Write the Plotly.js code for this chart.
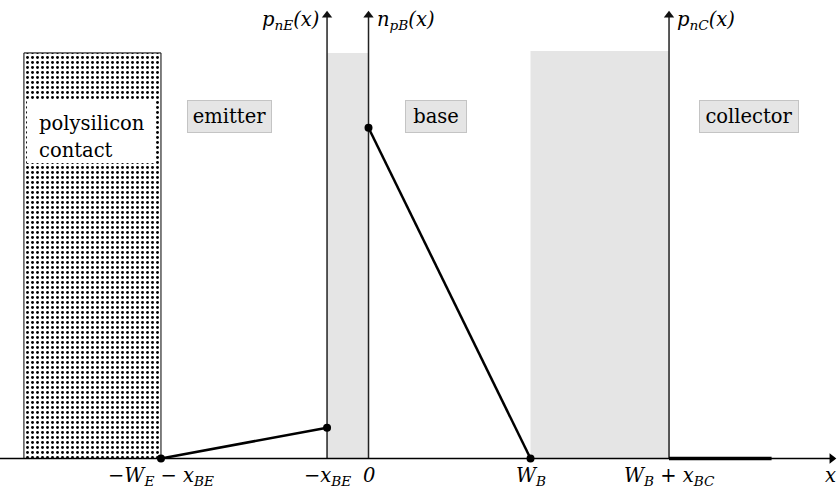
<!DOCTYPE html>
<html>
<head>
<meta charset="utf-8">
<script src="https://cdn.plot.ly/plotly-3.0.1.min.js"></script>
<style>html,body{margin:0;padding:0;background:#fff;}#chart{width:838px;height:496px;}</style>
</head>
<body>
<div id="chart"></div>
<script>
// ---- data (x in units of W_B, y in units of n_pB(0)) ----
const tickPos = [-1.281, -0.256, 0, 1, 1.855];
const tickLabels = ['−W<sub>E</sub> − x<sub>BE</sub>', '−x<sub>BE</sub>', '0', 'W<sub>B</sub>', 'W<sub>B</sub> + x<sub>BC</sub>'];
const emitterX = [-1.281, -0.256];
const emitterY = [0, 0.093];
const baseX = [0, 1];
const baseY = [1, 0];
const collectorX = [1.855, 2.488];
const collectorY = [0, 0];
const contactX = [-2.127, -1.281];
const contactTop = 1.226;
const contactTextX = [-2.108, -1.318];
const contactTextY = [0.893, 1.084];
const contactLabels = ['polysilicon', 'contact'];
const contactLabelY = [1.013, 0.93];
const depletionBEX = [-0.256, 0];
const depletionBCX = [1, 1.855];
const depletionTop = [1.226, 1.232];
const regionNames = ['emitter', 'base', 'collector'];
const regionX = [-0.858, 0.417, 2.349];
const regionY = 1.035;
const regionW = [83, 60, 98];
const axisNames = ['p<sub>nE</sub>(x)', 'n<sub>pB</sub>(x)', 'p<sub>nC</sub>(x)'];
const axisX = [-0.256, 0, 1.855];
const axisTop = 1.34;
const xAxisEnd = 2.86;
const xRange = [-2.2747, 2.898];
const yRange = [-0.1134, 1.386];

const FONT = 'DejaVu Serif';
const FS = 19.5;

const traces = [
  { // polysilicon contact (dotted)
    x: [contactX[0], contactX[1], contactX[1], contactX[0], contactX[0]],
    y: [0, 0, contactTop, contactTop, 0],
    mode: 'lines', fill: 'toself', fillcolor: '#ffffff',
    fillpattern: {shape: '.', size: 5, solidity: 0.26, fgcolor: '#000000', bgcolor: '#ffffff'},
    line: {color: '#000000', width: 1}, hoverinfo: 'skip', cliponaxis: false
  }
];
// vertical axes with arrow tips
axisX.forEach((xv) => {
  traces.push({x: [xv, xv], y: [0, axisTop], mode: 'lines', line: {color: '#222', width: 1.5}, cliponaxis: false, hoverinfo: 'skip'});
});
traces.push({x: axisX, y: axisX.map(() => axisTop), mode: 'markers',
  marker: {symbol: 'triangle-up', size: 9, color: '#111', line: {width: 0}}, cliponaxis: false, hoverinfo: 'skip'});
// horizontal axis
traces.push({x: [xRange[0], xAxisEnd], y: [0, 0], mode: 'lines', line: {color: '#000', width: 1.5}, cliponaxis: false, hoverinfo: 'skip'});
traces.push({x: [xAxisEnd], y: [0], mode: 'markers',
  marker: {symbol: 'triangle-right', size: 9, color: '#000', line: {width: 0}}, cliponaxis: false, hoverinfo: 'skip'});
// carrier profiles
traces.push({x: emitterX, y: emitterY, mode: 'lines+markers',
  line: {color: '#000', width: 2.5}, marker: {color: '#000', size: 8}, cliponaxis: false});
traces.push({x: baseX, y: baseY, mode: 'lines+markers',
  line: {color: '#000', width: 2.5}, marker: {color: '#000', size: 8}, cliponaxis: false});
traces.push({x: collectorX, y: collectorY, mode: 'lines',
  line: {color: '#000', width: 3.5}, cliponaxis: false});

const shapes = [
  {type: 'rect', xref: 'x', yref: 'y', layer: 'below', x0: depletionBEX[0], x1: depletionBEX[1], y0: 0, y1: depletionTop[0], fillcolor: '#e5e5e5', line: {width: 0}},
  {type: 'rect', xref: 'x', yref: 'y', layer: 'below', x0: depletionBCX[0], x1: depletionBCX[1], y0: 0, y1: depletionTop[1], fillcolor: '#e5e5e5', line: {width: 0}},
  {type: 'rect', xref: 'x', yref: 'y', layer: 'above', x0: contactTextX[0], x1: contactTextX[1], y0: contactTextY[0], y1: contactTextY[1], fillcolor: '#ffffff', line: {width: 0}}
];

const annotations = [];
annotations.push({x: xRange[1], y: 0, xref: 'x', yref: 'y', text: 'x', showarrow: false,
  xanchor: 'right', yanchor: 'top', xshift: 0, yshift: -4, font: {family: FONT, size: FS, color: '#000', style: 'italic'}});
axisX.forEach((xv, i) => {
  annotations.push({x: xv, y: axisTop, xref: 'x', yref: 'y', text: axisNames[i], showarrow: false,
    xanchor: i === 0 ? 'right' : 'left', yanchor: 'top', xshift: i === 0 ? -6 : 6, yshift: 9,
    font: {family: FONT, size: FS, color: '#000', style: 'italic'}});
});
tickPos.forEach((xv, i) => {
  annotations.push({x: xv, y: 0, xref: 'x', yref: 'y', text: tickLabels[i], showarrow: false,
    xanchor: 'center', yanchor: 'top', yshift: -4,
    font: {family: FONT, size: FS, color: '#000', style: 'italic'}});
});
regionNames.forEach((t, i) => {
  annotations.push({x: regionX[i], y: regionY, xref: 'x', yref: 'y', text: t, showarrow: false,
    xanchor: 'center', yanchor: 'middle', width: regionW[i], height: 31, borderpad: 0,
    bgcolor: '#e5e5e5', bordercolor: '#c4c4c4', borderwidth: 1,
    font: {family: FONT, size: FS, color: '#000'}});
});
contactLabels.forEach((t, i) => {
  annotations.push({x: contactTextX[0], y: contactLabelY[i], xref: 'x', yref: 'y', text: t, showarrow: false,
    xanchor: 'left', yanchor: 'middle', xshift: 10,
    font: {family: FONT, size: FS, color: '#000'}});
});

const layout = {
  width: 838, height: 496,
  margin: {l: 0, r: 0, t: 0, b: 0, pad: 0},
  paper_bgcolor: '#fff', plot_bgcolor: '#fff',
  showlegend: false,
  font: {family: FONT},
  xaxis: {range: xRange, visible: false, fixedrange: true},
  yaxis: {range: yRange, visible: false, fixedrange: true},
  shapes: shapes,
  annotations: annotations
};

Plotly.newPlot('chart', traces, layout, {staticPlot: true});
</script>
</body>
</html>
